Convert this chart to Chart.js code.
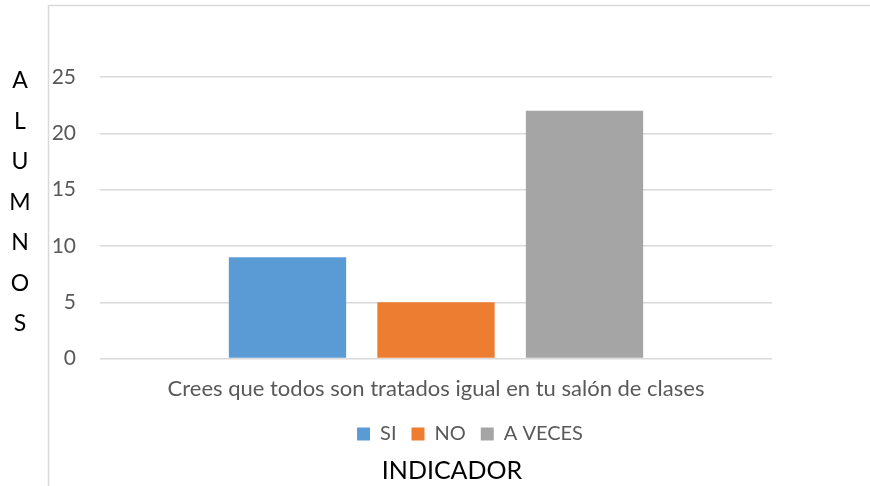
<!DOCTYPE html>
<html>
<head>
<meta charset="utf-8">
<script src="https://cdn.jsdelivr.net/npm/chart.js@4"></script>
<style>
  html, body { margin: 0; padding: 0; background: #fff; }
  #wrap { width: 870px; height: 486px; position: relative; }
</style>
</head>
<body>
<div id="wrap"><canvas id="chart"></canvas></div>
<script>
// datos
const categorias = ['Crees que todos son tratados igual en tu salón de clases'];
const serieSi = [9];
const serieNo = [5];
const serieAVeces = [22];
const nombresSeries = ['SI', 'NO', 'A VECES'];
const tituloY = ['A', 'L', 'U', 'M', 'N', 'O', 'S'];
const tituloX = 'INDICADOR';

const fuente = 'Lato, "Open Sans", sans-serif';

// marco del gráfico y título vertical letra por letra
const marcoPlugin = {
    id: 'marco',
    afterLayout(chart) {
        // en Excel la leyenda y el título no quedan centrados con el lienzo
        chart.legend.left += 84;
        chart.legend.right += 84;
        chart.titleBlock.left += 66;
        chart.titleBlock.right += 66;
    },
    afterDraw(chart) {
        const ctx = chart.ctx;
        ctx.save();
        ctx.strokeStyle = '#d9d9d9';
        ctx.lineWidth = 1.5;
        ctx.beginPath();
        ctx.moveTo(48.5, 486);
        ctx.lineTo(48.5, 5.5);
        ctx.lineTo(870, 5.5);
        ctx.stroke();

        ctx.fillStyle = '#000';
        ctx.font = '23px ' + fuente;
        ctx.textAlign = 'center';
        ctx.textBaseline = 'middle';
        tituloY.forEach((letra, i) => {
            ctx.fillText(letra, 20, 81 + i * 40.5);
        });
        ctx.restore();
    }
};

const ctx = document.getElementById('chart').getContext('2d');
new Chart(ctx, {
    type: 'bar',
    data: {
        labels: categorias,
        datasets: [
            { label: nombresSeries[0], data: serieSi, backgroundColor: '#5B9BD5' },
            { label: nombresSeries[1], data: serieNo, backgroundColor: '#ED7D31' },
            { label: nombresSeries[2], data: serieAVeces, backgroundColor: '#A5A5A5' }
        ]
    },
    options: {
        responsive: true,
        maintainAspectRatio: false,
        animation: false,
        categoryPercentage: 0.663,
        barPercentage: 0.79,
        layout: {
            padding: { left: 0, right: 98, top: 77, bottom: 0 }
        },
        plugins: {
            legend: {
                position: 'bottom',
                labels: {
                    boxWidth: 13,
                    boxHeight: 13,
                    padding: 15,
                    color: '#595959',
                    font: { family: fuente, size: 20 }
                }
            },
            title: {
                display: true,
                position: 'bottom',
                text: tituloX,
                color: '#000',
                padding: { top: 2, bottom: 0 },
                font: { family: fuente, size: 25, weight: 'normal' }
            },
            tooltip: { enabled: false }
        },
        scales: {
            x: {
                afterFit(scale) { scale.height -= 10; },
                grid: { display: false, drawTicks: false },
                border: { display: false },
                ticks: {
                    color: '#595959',
                    padding: 17,
                    font: { family: fuente, size: 22 }
                }
            },
            y: {
                min: 0,
                max: 25,
                afterFit(scale) { scale.width = 100; },
                grid: { color: '#d9d9d9', lineWidth: 1.5, drawTicks: false },
                border: { display: false },
                ticks: {
                    stepSize: 5,
                    color: '#595959',
                    padding: 24,
                    font: { family: fuente, size: 21 }
                }
            }
        }
    },
    plugins: [marcoPlugin]
});
</script>
</body>
</html>
